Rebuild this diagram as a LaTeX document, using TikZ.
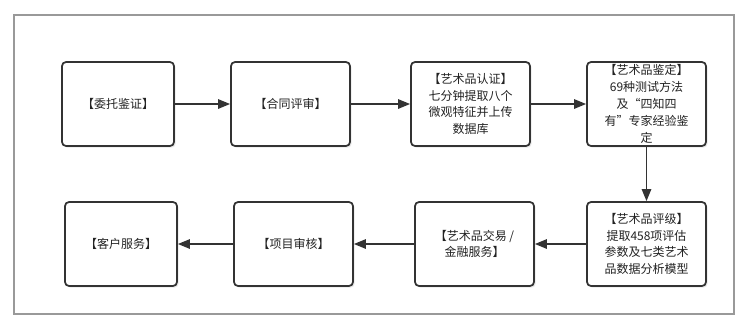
\documentclass[tikz,border=0pt]{standalone}
\usepackage{fontspec}
\setmainfont{Noto Sans CJK SC}
\usetikzlibrary{arrows.meta,shadows}
\definecolor{boxline}{HTML}{333333}
\definecolor{txt}{HTML}{222222}
\begin{document}
\begin{tikzpicture}[x=0.75pt,y=-0.75pt,
  flowbox/.style={draw=boxline,line width=1.3pt,rounded corners=3pt,fill=white,
    text=txt,font=\fontsize{9}{12.6}\selectfont,align=center,inner sep=0pt,
    drop shadow={opacity=0.18,shadow xshift=1.2pt,shadow yshift=-1.2pt}},
  flowarrow/.style={draw=boxline,line width=1.3pt,-{Triangle[length=9pt,width=7pt]}}]
\useasboundingbox (0,0) rectangle (750,330);
\fill[white] (0,0) rectangle (750,330);
% outer frame
\draw[draw=gray!80,line width=1.6pt,
  drop shadow={opacity=0.25,shadow xshift=-1pt,shadow yshift=1pt}, fill=white]
  (14,15) rectangle (734,314);
% top row
\node[flowbox,minimum width=112*0.75pt,minimum height=84*0.75pt] (b1) at (118,104) {【委托鉴证】};
\node[flowbox,minimum width=119*0.75pt,minimum height=84*0.75pt] (b2) at (290.5,104) {【合同评审】};
\node[flowbox,minimum width=119*0.75pt,minimum height=84*0.75pt] (b3) at (470.5,104) {【艺术品认证】\\七分钟提取八个\\微观特征并上传\\数据库};
\node[flowbox,minimum width=119*0.75pt,minimum height=84*0.75pt] (b4) at (646.5,104) {【艺术品鉴定】\\69种测试方法\\及“四知四\\有”专家经验鉴\\定};
% bottom row
\node[flowbox,minimum width=119*0.75pt,minimum height=84*0.75pt] (b5) at (646.5,244) {【艺术品评级】\\提取458项评估\\参数及七类艺术\\品数据分析模型};
\node[flowbox,minimum width=119*0.75pt,minimum height=84*0.75pt] (b6) at (474.5,244) {【艺术品交易 /\\金融服务】};
\node[flowbox,minimum width=119*0.75pt,minimum height=84*0.75pt] (b7) at (293.5,244) {【项目审核】};
\node[flowbox,minimum width=112*0.75pt,minimum height=84*0.75pt] (b8) at (121,244) {【客户服务】};
% connectors
\draw[flowarrow] (b1) -- (b2);
\draw[flowarrow] (b2) -- (b3);
\draw[flowarrow] (b3) -- (b4);
\draw[flowarrow] (b4) -- (b5);
\draw[flowarrow] (b5) -- (b6);
\draw[flowarrow] (b6) -- (b7);
\draw[flowarrow] (b7) -- (b8);
\end{tikzpicture}
\end{document}
